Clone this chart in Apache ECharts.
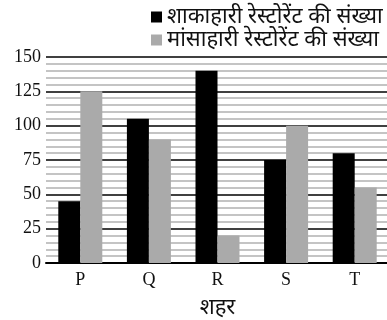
<!DOCTYPE html>
<html>
<head>
<meta charset="utf-8">
<script src="https://cdn.jsdelivr.net/npm/echarts@6/dist/echarts.min.js"></script>
<style>
  html, body { margin: 0; padding: 0; background: #fff; }
  #chart { width: 387px; height: 320px; }
</style>
</head>
<body>
<div id="chart"></div>
<script>
// city categories and restaurant counts
const cities = ['P', 'Q', 'R', 'S', 'T']
const vegCounts = [45, 105, 140, 75, 80]
const nonVegCounts = [125, 90, 20, 100, 55]
const seriesNames = ['शाकाहारी रेस्टोरेंट की संख्या', 'मांसाहारी रेस्टोरेंट की संख्या']
const axisName = 'शहर'

const serif = '"Liberation Serif", "DejaVu Serif", serif'
const hindi = '"Noto Sans", "Lohit Devanagari", "Noto Sans Devanagari", sans-serif'

const chart = echarts.init(document.getElementById('chart'))
chart.setOption({
  animation: false,
  grid: { left: 46, right: -2, top: 57, bottom: 57, outerBoundsMode: 'none' },
  legend: {
    orient: 'vertical',
    left: 146,
    top: 1,
    itemWidth: 11,
    itemHeight: 11,
    itemGap: 1,
    icon: 'rect',
    textStyle: { fontFamily: hindi, fontSize: 22, color: '#111' },
    data: seriesNames
  },
  xAxis: {
    type: 'category',
    data: cities,
    name: axisName,
    nameLocation: 'middle',
    nameGap: 34,
    nameTextStyle: { fontFamily: hindi, fontSize: 22, color: '#111' },
    axisLine: { lineStyle: { color: '#000', width: 2 } },
    axisTick: { show: false },
    axisLabel: { fontFamily: serif, fontSize: 18, color: '#111', margin: 8 }
  },
  yAxis: {
    type: 'value',
    min: 0,
    max: 150,
    interval: 25,
    axisLine: { show: false },
    axisTick: { show: false },
    axisLabel: { fontFamily: serif, fontSize: 18, color: '#111', margin: 5 },
    splitLine: { lineStyle: { color: '#000', width: 1.5 } },
    minorTick: { show: false, splitNumber: 5 },
    minorSplitLine: { show: true, lineStyle: { color: '#c4c4c4', width: 2 } }
  },
  series: [
    {
      name: seriesNames[0],
      type: 'bar',
      data: vegCounts,
      barWidth: 22,
      barGap: '0%',
      itemStyle: { color: '#000' }
    },
    {
      name: seriesNames[1],
      type: 'bar',
      data: nonVegCounts,
      barWidth: 22,
      itemStyle: { color: '#aaaaaa' }
    }
  ]
})
</script>
</body>
</html>
